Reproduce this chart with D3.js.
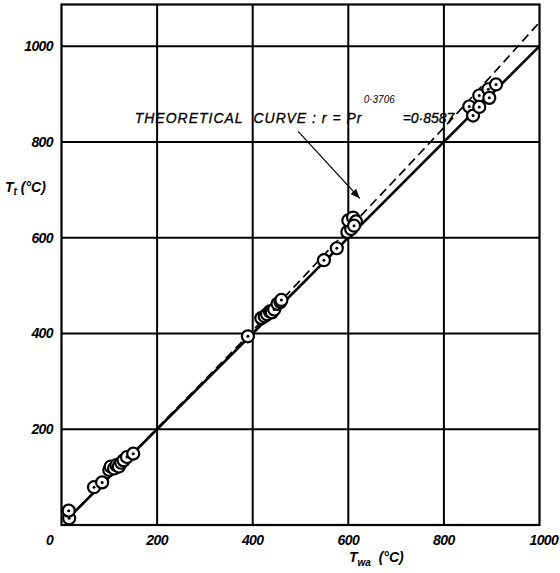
<!DOCTYPE html>
<html>
<head>
<meta charset="utf-8">
<script src="https://cdn.jsdelivr.net/npm/d3@7"></script>
<style>
  body { margin: 0; background: #fff; }
  text { font-family: "Liberation Sans", Arial, sans-serif; font-style: italic; font-weight: bold; fill: #000; }
</style>
</head>
<body>
<script>
// measured points, T_wa vs T_t (degC)
let twa = [16, 15, 68, 85, 100, 103, 110, 115, 120, 125, 130, 137, 150,
           390, 418, 425, 430, 436, 440, 445, 452, 458, 460,
           549, 576, 598, 606, 600, 610, 616, 612,
           853, 861, 874, 874, 893, 895, 909];
let tt  = [14, 30, 79, 89, 115, 122, 118, 125, 122, 130, 135, 142, 149,
           394, 432, 436, 440, 446, 444, 450, 462, 466, 470,
           553, 578, 612, 618, 636, 642, 634, 625,
           874, 855, 897, 873, 910, 892, 920];

// line T_t = T_wa
let lineX = [15, 1000];
let lineY = [15, 1000];

// theoretical curve (dashed)
let theoX = [15, 200, 400, 600, 800, 1000];
let theoY = [15, 202, 406, 618, 830, 1050];

let ticks = [200, 400, 600, 800, 1000];

let w = 560, h = 573;
let svg = d3.select('body').append('svg').attr('width', w).attr('height', h);

let xScale = d3.scaleLinear().domain([0, 1000]).range([61.5, 539.5]);
let yScale = d3.scaleLinear().domain([0, 1087]).range([525, 4.5]);

// grid lines
svg.append('g').selectAll('line.vg')
  .data(ticks.slice(0, 4))
  .enter().append('line')
  .attr('x1', d => xScale(d)).attr('x2', d => xScale(d))
  .attr('y1', yScale(0)).attr('y2', yScale(1087))
  .style('stroke', '#000').style('stroke-width', 2);

svg.append('g').selectAll('line.hg')
  .data(ticks)
  .enter().append('line')
  .attr('y1', d => yScale(d)).attr('y2', d => yScale(d))
  .attr('x1', xScale(0)).attr('x2', xScale(1000))
  .style('stroke', '#000').style('stroke-width', 2);

// frame
svg.append('rect')
  .attr('x', xScale(0)).attr('y', yScale(1087))
  .attr('width', xScale(1000) - xScale(0))
  .attr('height', yScale(0) - yScale(1087))
  .style('fill', 'none').style('stroke', '#000').style('stroke-width', 2.2);

// lines
let line = d3.line().x(d => xScale(d[0])).y(d => yScale(d[1]));
svg.append('path')
  .datum(d3.zip(lineX, lineY))
  .attr('d', line)
  .style('fill', 'none').style('stroke', '#000').style('stroke-width', 2.6);

svg.append('path')
  .datum(d3.zip(theoX, theoY))
  .attr('d', line.curve(d3.curveMonotoneX))
  .style('fill', 'none').style('stroke', '#000').style('stroke-width', 1.7)
  .style('stroke-dasharray', '9,5');

// points
let pts = svg.append('g').selectAll('g')
  .data(d3.zip(twa, tt))
  .enter().append('g')
  .attr('transform', d => `translate(${xScale(d[0])},${yScale(d[1])})`);
pts.append('circle').attr('r', 6)
  .style('fill', '#fff').style('stroke', '#000').style('stroke-width', 2.2);
pts.append('circle').attr('r', 1.5).style('fill', '#000');

// tick labels
svg.append('g').selectAll('text')
  .data(ticks)
  .enter().append('text')
  .attr('x', d => xScale(d)).attr('y', 545)
  .attr('text-anchor', d => d === 1000 ? 'start' : 'middle')
  .attr('dx', d => d === 1000 ? -10 : 0)
  .style('font-size', '14px').style('letter-spacing', '-0.6px')
  .text(d => d);

svg.append('g').selectAll('text')
  .data(ticks)
  .enter().append('text')
  .attr('x', 53).attr('y', d => yScale(d) + 5)
  .attr('text-anchor', 'end')
  .style('font-size', '14px').style('letter-spacing', '-0.6px')
  .text(d => d);

svg.append('text').attr('x', 50).attr('y', 545)
  .attr('text-anchor', 'middle').style('font-size', '14px').text('0');

// axis titles
let xt = svg.append('text').attr('x', 349).attr('y', 562).style('font-size', '14px');
xt.append('tspan').text('T');
xt.append('tspan').attr('dy', 4).style('font-size', '10px').text('wa');
xt.append('tspan').attr('dy', -4).text('\u00a0\u00a0(°C)');

let yt = svg.append('text').attr('x', 5).attr('y', 192).style('font-size', '14px');
yt.append('tspan').text('T');
yt.append('tspan').attr('dy', 3).style('font-size', '10px').text('t');
yt.append('tspan').attr('dy', -3).text(' (°C)');

// annotation
let annX = xScale(153), annY = yScale(840);
svg.append('text')
  .attr('x', annX).attr('y', annY)
  .style('font-size', '14px').style('font-weight', 'normal')
  .style('stroke', '#000').style('stroke-width', 0.3)
  .style('letter-spacing', '1px')
  .text('THEORETICAL\u00a0 CURVE : r = Pr');
svg.append('text')
  .attr('x', annX + 229).attr('y', annY - 20)
  .style('font-size', '10px').style('font-weight', 'normal')
  .text('0·3706');
svg.append('text')
  .attr('x', annX + 268).attr('y', annY)
  .style('font-size', '14px').style('font-weight', 'normal')
  .style('stroke', '#000').style('stroke-width', 0.3)
  .text('=0·8587');

svg.append('defs').append('marker')
  .attr('id', 'ah').attr('viewBox', '0 0 10 10').attr('refX', 10).attr('refY', 5)
  .attr('markerWidth', 8).attr('markerHeight', 8).attr('orient', 'auto')
  .append('path').attr('d', 'M0,1 L10,5 L0,9 Z').style('fill', '#000');

svg.append('line')
  .attr('x1', xScale(495)).attr('y1', yScale(822))
  .attr('x2', xScale(624)).attr('y2', yScale(682))
  .style('stroke', '#000').style('stroke-width', 1.2)
  .attr('marker-end', 'url(#ah)');
</script>
</body>
</html>
